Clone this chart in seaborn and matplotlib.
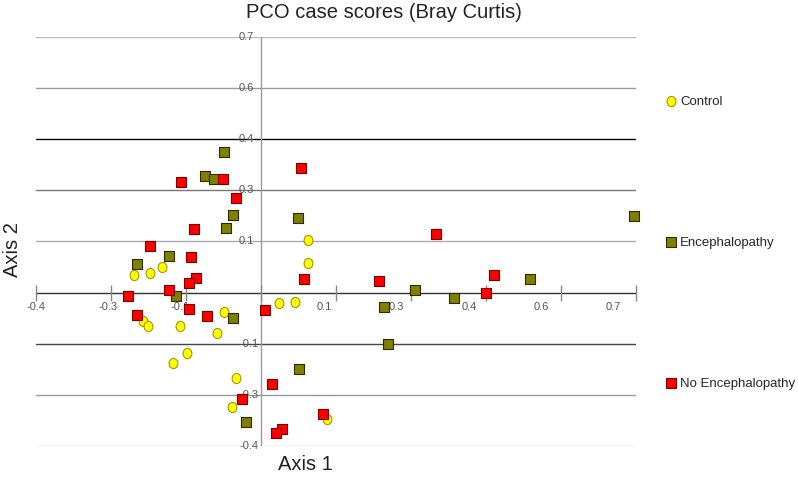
#!/usr/bin/env python3

'''
PCO case scores (Bray Curtis) - scatter of three groups on two axes.
'''

import numpy as np
import matplotlib
matplotlib.use('Agg')
import matplotlib.pyplot as plt
from matplotlib.path import Path
import seaborn as sns

# puntos (Axis 1, Axis 2)
control_x = [0.100, 0.100, -0.168, -0.191, -0.219, -0.055, -0.203, -0.195, -0.135,
             -0.068, -0.123, -0.148, -0.032, -0.040, 0.046, 0.076, 0.134]
control_y = [0.155, 0.091, 0.082, 0.065, 0.060, -0.040, -0.063, -0.077, -0.077,
             -0.095, -0.149, -0.178, -0.217, -0.296, -0.015, -0.012, -0.328]

enceph_x = [-0.055, -0.089, -0.073, -0.038, 0.080, -0.052, -0.156, -0.215, -0.143,
            -0.038, -0.014, 0.083, 0.697, 0.295, 0.366, 0.506, 0.239, 0.245]
enceph_y = [0.390, 0.325, 0.318, 0.221, 0.212, 0.186, 0.111, 0.090, 0.004,
            -0.057, -0.336, -0.192, 0.219, 0.019, -0.001, 0.048, -0.026, -0.127]

no_enceph_x = [0.087, -0.134, -0.057, -0.032, -0.110, -0.191, -0.115, -0.107, -0.119,
               0.092, -0.156, -0.231, -0.119, -0.086, -0.214, -0.021, 0.020, 0.033,
               0.126, 0.051, 0.040, 0.334, 0.230, 0.425, 0.440]
no_enceph_y = [0.349, 0.311, 0.318, 0.266, 0.184, 0.137, 0.108, 0.052, 0.039,
               0.048, 0.020, 0.004, -0.032, -0.050, -0.049, -0.274, -0.035, -0.234,
               -0.314, -0.354, -0.364, 0.170, 0.044, 0.011, 0.061]

tick_vals = np.linspace(-0.4, 0.7, 9)
x_tick_labels = ['-0.4', '-0.3', '-0.1', '', '0.1', '0.3', '0.4', '0.6', '0.7']
y_tick_labels = ['-0.4', '-0.3', '-0.1', '', '0.1', '0.3', '0.4', '0.6', '0.7']

sns.set_style('white')
plt.rcParams['font.family'] = ['Liberation Sans', 'DejaVu Sans']

fig = plt.figure(figsize=(7.98, 4.79), dpi=100)
W, H = 798, 479
ax = fig.add_axes([35.7 / W, 1 - 446 / H, 600 / W, 409 / H])
ax.set_xlim(-0.4, 0.7)
ax.set_ylim(-0.4, 0.7)
ax.set_xticks([])
ax.set_yticks([])
for s in ax.spines.values():
    s.set_visible(False)

origin = tick_vals[3]

# lineas horizontales (grilla) y eje
grid_colors = ['#cccccc', '#999999', '#444444', '#333333', '#aaaaaa',
               '#777777', '#000000', '#999999', '#bbbbbb']
for yv, c in zip(tick_vals, grid_colors):
    ax.axhline(yv, color=c, lw=1, zorder=1)
ax.axvline(origin, color='#9a9a9a', lw=1, zorder=1)

# marcas del eje x
ax.plot(tick_vals, [origin] * len(tick_vals), ls='none', marker='|',
        markersize=12, markeredgewidth=1, color='#888888', zorder=1, clip_on=False)

# etiquetas del eje x (se corren un poco a la izquierda como en el original)
drift = 72.2 / 75.0
for i, lab in enumerate(x_tick_labels):
    xpos = tick_vals[0] + (tick_vals[i] - tick_vals[0]) * drift
    ax.annotate(lab, xy=(xpos, origin), xytext=(0, -14), textcoords='offset pixels',
                ha='center', va='center', fontsize=8, color='#555555')
for yv, lab in zip(tick_vals, y_tick_labels):
    ax.annotate(lab, xy=(origin, yv), xytext=(-21.7, 0), textcoords='offset pixels',
                ha='left', va='center', fontsize=8, color='#555555')

circ = Path.unit_circle()
oval = Path(circ.vertices * np.array([0.86, 1.0]), circ.codes)

sns.scatterplot(x=control_x, y=control_y, ax=ax, marker=oval, s=54,
                color='#ffff00', edgecolor='#a09a00', linewidth=0.8,
                label='Control', zorder=3, clip_on=False)
sns.scatterplot(x=enceph_x, y=enceph_y, ax=ax, marker='s', s=60,
                color='#808000', edgecolor='#2a2a00', linewidth=0.8,
                label='Encephalopathy', zorder=3, clip_on=False)
sns.scatterplot(x=no_enceph_x, y=no_enceph_y, ax=ax, marker='s', s=60,
                color='#ff0000', edgecolor='#7a0000', linewidth=0.8,
                label='No Encephalopathy', zorder=3, clip_on=False)

ax.legend(loc='upper left', bbox_to_anchor=(665.4 / W, 1 - 95.5 / H),
          bbox_transform=fig.transFigure, frameon=False, fontsize=9.5,
          labelspacing=9.75, handlelength=0.8, handletextpad=0.3,
          borderpad=0, borderaxespad=0)

fig.text(383.7 / W, 1 - 13 / H, 'PCO case scores (Bray Curtis)', ha='center',
         va='center', fontsize=14.5, color='#222222')
fig.text(305 / W, 1 - 465 / H, 'Axis 1', ha='center', va='center',
         fontsize=14.5, color='#222222')
fig.text(12 / W, 1 - 250 / H, 'Axis 2', ha='center', va='center',
         rotation=90, fontsize=14.5, color='#222222')

fig.savefig('out.png', dpi=100)
